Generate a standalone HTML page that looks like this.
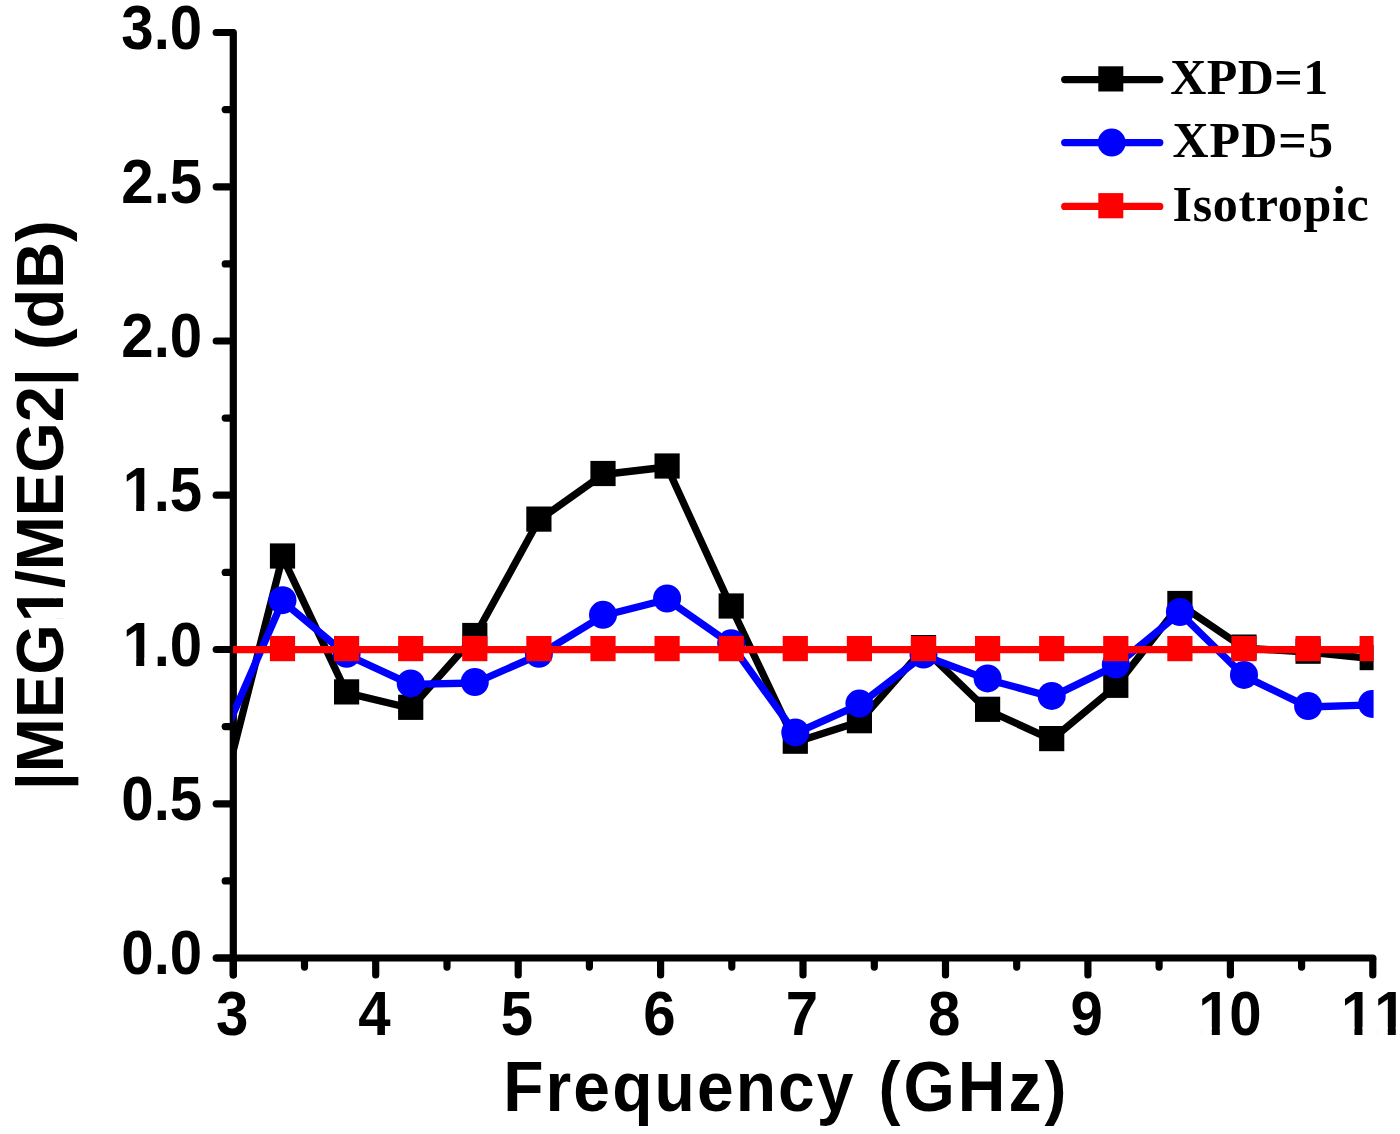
<!DOCTYPE html>
<html lang="en"><head><meta charset="utf-8"><title>|MEG1/MEG2| vs Frequency</title>
<style>
html,body{margin:0;padding:0;background:#fff;}
body{width:1400px;height:1134px;overflow:hidden;}
svg{display:block;filter:blur(0.45px);}
.ax{font-family:"Liberation Sans",Arial,sans-serif;font-weight:bold;fill:#000;font-kerning:none;}
.lg{font-family:"Liberation Serif","Times New Roman",serif;font-weight:bold;fill:#000;}
</style></head><body>
<svg width="1400" height="1134" viewBox="0 0 1400 1134">
<rect width="1400" height="1134" fill="#fff"/>
<defs><clipPath id="plot"><rect x="233" y="20" width="1140.6" height="934.4"/></clipPath></defs>

<g stroke="#000" stroke-width="7.2" stroke-linecap="round" fill="none">
<line x1="233.3" y1="32.5" x2="233.3" y2="975"/>
<line x1="216.5" y1="958.0" x2="1372.8" y2="958.0"/>
<line x1="216.2" y1="958.0" x2="232.3" y2="958.0"/>
<line x1="225.2" y1="880.9" x2="232.3" y2="880.9"/>
<line x1="216.2" y1="803.8" x2="232.3" y2="803.8"/>
<line x1="225.2" y1="726.6" x2="232.3" y2="726.6"/>
<line x1="216.2" y1="649.5" x2="232.3" y2="649.5"/>
<line x1="225.2" y1="572.4" x2="232.3" y2="572.4"/>
<line x1="216.2" y1="495.2" x2="232.3" y2="495.2"/>
<line x1="225.2" y1="418.1" x2="232.3" y2="418.1"/>
<line x1="216.2" y1="341.0" x2="232.3" y2="341.0"/>
<line x1="225.2" y1="263.9" x2="232.3" y2="263.9"/>
<line x1="216.2" y1="186.8" x2="232.3" y2="186.8"/>
<line x1="225.2" y1="109.6" x2="232.3" y2="109.6"/>
<line x1="216.2" y1="32.5" x2="232.3" y2="32.5"/>
<line x1="233.3" y1="959.0" x2="233.3" y2="975"/>
<line x1="304.5" y1="959.0" x2="304.5" y2="967.1"/>
<line x1="375.7" y1="959.0" x2="375.7" y2="975"/>
<line x1="447.0" y1="959.0" x2="447.0" y2="967.1"/>
<line x1="518.2" y1="959.0" x2="518.2" y2="975"/>
<line x1="589.4" y1="959.0" x2="589.4" y2="967.1"/>
<line x1="660.6" y1="959.0" x2="660.6" y2="975"/>
<line x1="731.8" y1="959.0" x2="731.8" y2="967.1"/>
<line x1="803.0" y1="959.0" x2="803.0" y2="975"/>
<line x1="874.3" y1="959.0" x2="874.3" y2="967.1"/>
<line x1="945.5" y1="959.0" x2="945.5" y2="975"/>
<line x1="1016.7" y1="959.0" x2="1016.7" y2="967.1"/>
<line x1="1087.9" y1="959.0" x2="1087.9" y2="975"/>
<line x1="1159.1" y1="959.0" x2="1159.1" y2="967.1"/>
<line x1="1230.4" y1="959.0" x2="1230.4" y2="975"/>
<line x1="1301.6" y1="959.0" x2="1301.6" y2="967.1"/>
<line x1="1372.8" y1="959.0" x2="1372.8" y2="975"/>
</g>
<g clip-path="url(#plot)">
<polyline points="218.4,809.0 282.5,557.0 346.6,692.9 410.7,708.3 474.8,636.5 538.9,520.1 603.0,474.5 667.1,467.0 731.2,607.0 795.3,742.2 859.4,721.7 923.5,648.6 987.6,710.3 1051.7,739.6 1115.8,686.3 1179.9,604.5 1244.0,648.1 1308.1,652.2 1372.2,658.6" fill="none" stroke="#000" stroke-width="7.3" stroke-linejoin="round"/>
<rect x="205.8" y="795.4" width="25.2" height="25.2" fill="#000"/>
<rect x="269.9" y="543.4" width="25.2" height="25.2" fill="#000"/>
<rect x="334.0" y="679.3" width="25.2" height="25.2" fill="#000"/>
<rect x="398.1" y="694.7" width="25.2" height="25.2" fill="#000"/>
<rect x="462.2" y="622.9" width="25.2" height="25.2" fill="#000"/>
<rect x="526.3" y="506.5" width="25.2" height="25.2" fill="#000"/>
<rect x="590.4" y="460.9" width="25.2" height="25.2" fill="#000"/>
<rect x="654.5" y="453.4" width="25.2" height="25.2" fill="#000"/>
<rect x="718.6" y="593.4" width="25.2" height="25.2" fill="#000"/>
<rect x="782.7" y="728.6" width="25.2" height="25.2" fill="#000"/>
<rect x="846.8" y="708.1" width="25.2" height="25.2" fill="#000"/>
<rect x="910.9" y="635.0" width="25.2" height="25.2" fill="#000"/>
<rect x="975.0" y="696.7" width="25.2" height="25.2" fill="#000"/>
<rect x="1039.1" y="726.0" width="25.2" height="25.2" fill="#000"/>
<rect x="1103.2" y="672.7" width="25.2" height="25.2" fill="#000"/>
<rect x="1167.3" y="590.9" width="25.2" height="25.2" fill="#000"/>
<rect x="1231.4" y="634.5" width="25.2" height="25.2" fill="#000"/>
<rect x="1295.5" y="638.6" width="25.2" height="25.2" fill="#000"/>
<rect x="1359.6" y="645.0" width="25.2" height="25.2" fill="#000"/>
<polyline points="218.4,747.6 282.5,601.2 346.6,654.8 410.7,684.4 474.8,683.0 538.9,654.8 603.0,615.8 667.1,599.5 731.2,644.3 795.3,733.4 859.4,704.6 923.5,655.6 987.6,679.4 1051.7,696.9 1115.8,665.6 1179.9,613.0 1244.0,675.9 1308.1,707.0 1372.2,704.9" fill="none" stroke="#0000ff" stroke-width="7.3" stroke-linejoin="round"/>
<circle cx="218.4" cy="746.6" r="14.0" fill="#0000ff"/>
<circle cx="282.5" cy="600.2" r="14.0" fill="#0000ff"/>
<circle cx="346.6" cy="653.8" r="14.0" fill="#0000ff"/>
<circle cx="410.7" cy="683.4" r="14.0" fill="#0000ff"/>
<circle cx="474.8" cy="682.0" r="14.0" fill="#0000ff"/>
<circle cx="538.9" cy="653.8" r="14.0" fill="#0000ff"/>
<circle cx="603.0" cy="614.8" r="14.0" fill="#0000ff"/>
<circle cx="667.1" cy="598.5" r="14.0" fill="#0000ff"/>
<circle cx="731.2" cy="643.3" r="14.0" fill="#0000ff"/>
<circle cx="795.3" cy="732.4" r="14.0" fill="#0000ff"/>
<circle cx="859.4" cy="703.6" r="14.0" fill="#0000ff"/>
<circle cx="923.5" cy="654.6" r="14.0" fill="#0000ff"/>
<circle cx="987.6" cy="678.4" r="14.0" fill="#0000ff"/>
<circle cx="1051.7" cy="695.9" r="14.0" fill="#0000ff"/>
<circle cx="1115.8" cy="664.6" r="14.0" fill="#0000ff"/>
<circle cx="1179.9" cy="612.0" r="14.0" fill="#0000ff"/>
<circle cx="1244.0" cy="674.9" r="14.0" fill="#0000ff"/>
<circle cx="1308.1" cy="706.0" r="14.0" fill="#0000ff"/>
<circle cx="1372.2" cy="703.9" r="14.0" fill="#0000ff"/>
<polyline points="218.4,649.6 282.5,649.6 346.6,649.6 410.7,649.6 474.8,649.6 538.9,649.6 603.0,649.6 667.1,649.6 731.2,649.6 795.3,649.6 859.4,649.6 923.5,649.6 987.6,649.6 1051.7,649.6 1115.8,649.6 1179.9,649.6 1244.0,649.6 1308.1,649.6 1372.2,649.6" fill="none" stroke="#ff0000" stroke-width="7.3" stroke-linejoin="round"/>
<rect x="205.8" y="636.0" width="25.2" height="25.2" fill="#ff0000"/>
<rect x="269.9" y="636.0" width="25.2" height="25.2" fill="#ff0000"/>
<rect x="334.0" y="636.0" width="25.2" height="25.2" fill="#ff0000"/>
<rect x="398.1" y="636.0" width="25.2" height="25.2" fill="#ff0000"/>
<rect x="462.2" y="636.0" width="25.2" height="25.2" fill="#ff0000"/>
<rect x="526.3" y="636.0" width="25.2" height="25.2" fill="#ff0000"/>
<rect x="590.4" y="636.0" width="25.2" height="25.2" fill="#ff0000"/>
<rect x="654.5" y="636.0" width="25.2" height="25.2" fill="#ff0000"/>
<rect x="718.6" y="636.0" width="25.2" height="25.2" fill="#ff0000"/>
<rect x="782.7" y="636.0" width="25.2" height="25.2" fill="#ff0000"/>
<rect x="846.8" y="636.0" width="25.2" height="25.2" fill="#ff0000"/>
<rect x="910.9" y="636.0" width="25.2" height="25.2" fill="#ff0000"/>
<rect x="975.0" y="636.0" width="25.2" height="25.2" fill="#ff0000"/>
<rect x="1039.1" y="636.0" width="25.2" height="25.2" fill="#ff0000"/>
<rect x="1103.2" y="636.0" width="25.2" height="25.2" fill="#ff0000"/>
<rect x="1167.3" y="636.0" width="25.2" height="25.2" fill="#ff0000"/>
<rect x="1231.4" y="636.0" width="25.2" height="25.2" fill="#ff0000"/>
<rect x="1295.5" y="636.0" width="25.2" height="25.2" fill="#ff0000"/>
<rect x="1359.6" y="636.0" width="25.2" height="25.2" fill="#ff0000"/>
</g>
<text class="ax" font-size="60" transform="translate(202.20,974.20) scale(0.97,1.045)" text-anchor="end">0.0</text>
<text class="ax" font-size="60" transform="translate(202.20,819.95) scale(0.97,1.045)" text-anchor="end">0.5</text>
<text class="ax" font-size="60" transform="translate(202.20,665.70) scale(0.97,1.045)" clip-path="url(#c1x)"><tspan x="-82.00">1</tspan><tspan x="-50.04">.0</tspan></text>
<text class="ax" font-size="60" transform="translate(202.20,511.45) scale(0.97,1.045)" clip-path="url(#c1x)"><tspan x="-82.00">1</tspan><tspan x="-50.04">.5</tspan></text>
<text class="ax" font-size="60" transform="translate(202.20,357.20) scale(0.97,1.045)" text-anchor="end">2.0</text>
<text class="ax" font-size="60" transform="translate(202.20,202.95) scale(0.97,1.045)" text-anchor="end">2.5</text>
<text class="ax" font-size="60" transform="translate(202.20,48.70) scale(0.97,1.045)" text-anchor="end">3.0</text>
<text class="ax" font-size="60" transform="translate(232.10,1034.60) scale(0.97,1.045)" text-anchor="middle">3</text>
<text class="ax" font-size="60" transform="translate(374.54,1034.60) scale(0.97,1.045)" text-anchor="middle">4</text>
<text class="ax" font-size="60" transform="translate(516.97,1034.60) scale(0.97,1.045)" text-anchor="middle">5</text>
<text class="ax" font-size="60" transform="translate(659.41,1034.60) scale(0.97,1.045)" text-anchor="middle">6</text>
<text class="ax" font-size="60" transform="translate(801.85,1034.60) scale(0.97,1.045)" text-anchor="middle">7</text>
<text class="ax" font-size="60" transform="translate(944.29,1034.60) scale(0.97,1.045)" text-anchor="middle">8</text>
<text class="ax" font-size="60" transform="translate(1086.72,1034.60) scale(0.97,1.045)" text-anchor="middle">9</text>
<text class="ax" font-size="60" transform="translate(1229.16,1034.60) scale(0.97,1.045)" clip-path="url(#c10)"><tspan x="-31.86">1</tspan><tspan x="0.00">0</tspan></text>
<text class="ax" font-size="60" transform="translate(1371.60,1034.60) scale(0.97,1.045)" clip-path="url(#c11)"><tspan x="-31.66">1</tspan><tspan x="2.70">1</tspan></text>
<text class="ax" font-size="68" transform="translate(503.20,1111.10) scale(0.97,1.036)" textLength="361.2" lengthAdjust="spacing" id="xt">Frequency</text>
<text class="ax" font-size="68" transform="translate(878.40,1111.10) scale(0.97,1.036)" textLength="194" lengthAdjust="spacing" id="xt2">(GHz)</text>
<text class="ax" font-size="65" transform="translate(62.60,790.30) rotate(-90) scale(1.0,1.033)" textLength="570" lengthAdjust="spacing" id="yt" clip-path="url(#cy)">|MEG<tspan dx="2">1</tspan><tspan dx="-2">/</tspan>MEG2| (dB)</text>
<line x1="1064.7" y1="79.6" x2="1159.8" y2="79.6" stroke="#000" stroke-width="7.2" stroke-linecap="round"/>
<rect x="1098.3" y="66.3" width="25" height="25.2" fill="#000"/>
<text class="lg" font-size="50" transform="translate(1170.30,94.20) scale(1.0,1.0)" textLength="158" lengthAdjust="spacing">XPD=1</text>
<line x1="1064.7" y1="142.6" x2="1159.8" y2="142.6" stroke="#0000ff" stroke-width="7.2" stroke-linecap="round"/>
<circle cx="1111.7" cy="142.6" r="14" fill="#0000ff"/>
<text class="lg" font-size="50" transform="translate(1172.40,157.20) scale(1.0,1.0)" textLength="160.5" lengthAdjust="spacing">XPD=5</text>
<line x1="1064.7" y1="206.4" x2="1159.8" y2="206.4" stroke="#ff0000" stroke-width="7.2" stroke-linecap="round"/>
<rect x="1098.3" y="193.1" width="25" height="25.2" fill="#ff0000"/>
<text class="lg" font-size="50" transform="translate(1172.50,220.70) scale(1.0,1.0)" textLength="196.3" lengthAdjust="spacing">Isotropic</text>
<defs><clipPath id="c1x"><rect x="-700" y="-72.00" width="1400" height="64.78"/><rect x="-700.00" y="-7.72" width="621.18" height="25.22"/><rect x="-68.00" y="-7.72" width="8.23" height="9.22"/><rect x="-49.72" y="-7.72" width="749.72" height="25.22"/></clipPath><clipPath id="c10"><rect x="-700" y="-72.00" width="1400" height="64.78"/><rect x="-700.00" y="-7.72" width="671.32" height="25.22"/><rect x="-17.86" y="-7.72" width="8.23" height="9.22"/><rect x="0.42" y="-7.72" width="699.58" height="25.22"/></clipPath><clipPath id="c11"><rect x="-700" y="-72.00" width="1400" height="64.78"/><rect x="-700.00" y="-7.72" width="671.52" height="25.22"/><rect x="-17.66" y="-7.72" width="8.23" height="9.22"/><rect x="0.62" y="-7.72" width="5.26" height="25.22"/><rect x="16.70" y="-7.72" width="8.23" height="9.22"/><rect x="34.98" y="-7.72" width="665.02" height="25.22"/></clipPath><clipPath id="cy"><rect x="-700" y="-78.00" width="1400" height="70.27"/><rect x="-700.00" y="-8.23" width="871.51" height="27.23"/><rect x="183.19" y="-8.23" width="8.92" height="9.73"/><rect x="202.94" y="-8.23" width="497.06" height="27.23"/></clipPath></defs>
</svg></body></html>
